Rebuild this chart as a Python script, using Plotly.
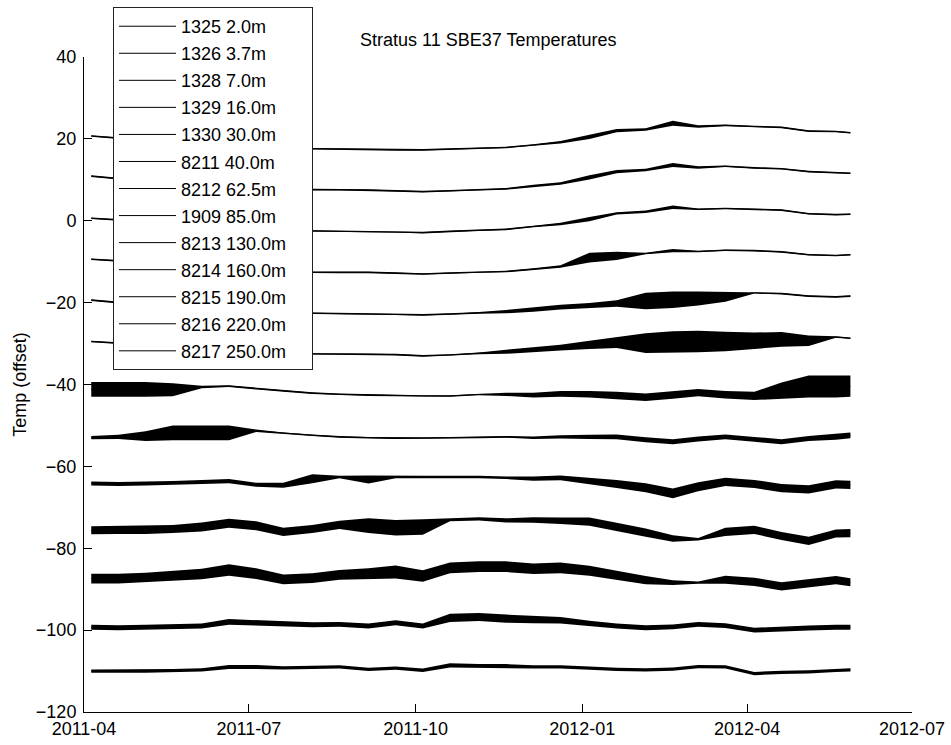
import plotly.graph_objects as go

# Shared time grid (semi-monthly samples)
dates = ['2011-04-05', '2011-04-20', '2011-05-05', '2011-05-20', '2011-06-05', '2011-06-20',
         '2011-07-05', '2011-07-20', '2011-08-05', '2011-08-20', '2011-09-05', '2011-09-20',
         '2011-10-05', '2011-10-20', '2011-11-05', '2011-11-20', '2011-12-05', '2011-12-20',
         '2012-01-05', '2012-01-20', '2012-02-05', '2012-02-20', '2012-03-05', '2012-03-20',
         '2012-04-05', '2012-04-20', '2012-05-05', '2012-05-20', '2012-05-28']

names = ['1325 2.0m', '1326 3.7m', '1328 7.0m', '1329 16.0m', '1330 30.0m', '8211 40.0m',
         '8212 62.5m', '1909 85.0m', '8213 130.0m', '8214 160.0m', '8215 190.0m',
         '8216 220.0m', '8217 250.0m']

# Offset temperatures: centre of trace and half-thickness of noise band
s1325_mid = [20.7, 20.2, 19.5, 18.8, 18.2, 17.8, 17.6, 17.5, 17.6, 17.5, 17.4, 17.3, 17.3, 17.5, 17.7,
             17.9, 18.5, 19.2, 20.5, 22.0, 22.3, 23.8, 23.0, 23.3, 23.0, 22.8, 21.9, 21.8, 21.5]
s1325_half = [0.2, 0.2, 0.2, 0.2, 0.2, 0.2, 0.2, 0.2, 0.2, 0.2, 0.2, 0.2, 0.2, 0.2, 0.2,
              0.2, 0.2, 0.3, 0.5, 0.4, 0.3, 0.6, 0.3, 0.2, 0.2, 0.2, 0.2, 0.2, 0.2]

s1326_mid = [10.9, 10.3, 9.6, 9.0, 8.4, 8.0, 7.8, 7.7, 7.6, 7.6, 7.5, 7.3, 7.1, 7.3, 7.6,
             7.8, 8.5, 9.1, 10.6, 12.0, 12.4, 13.6, 13.0, 13.3, 12.9, 12.7, 12.0, 11.8, 11.6]
s1326_half = [0.2, 0.2, 0.2, 0.2, 0.2, 0.2, 0.2, 0.2, 0.2, 0.2, 0.2, 0.2, 0.2, 0.2, 0.2,
              0.2, 0.3, 0.3, 0.5, 0.4, 0.3, 0.5, 0.3, 0.2, 0.2, 0.2, 0.2, 0.2, 0.2]

s1328_mid = [0.6, 0.2, -0.4, -1.0, -1.6, -2.0, -2.3, -2.4, -2.5, -2.5, -2.6, -2.7, -2.9, -2.6, -2.3,
             -2.1, -1.4, -0.8, 0.4, 1.8, 2.2, 3.3, 2.8, 3.0, 2.8, 2.6, 1.7, 1.5, 1.6]
s1328_half = [0.2, 0.2, 0.2, 0.2, 0.2, 0.2, 0.2, 0.2, 0.2, 0.2, 0.2, 0.2, 0.2, 0.2, 0.2,
              0.2, 0.2, 0.3, 0.5, 0.3, 0.3, 0.4, 0.2, 0.2, 0.2, 0.2, 0.2, 0.2, 0.2]

s1329_mid = [-9.4, -9.8, -10.4, -11.0, -11.6, -12.0, -12.3, -12.5, -12.6, -12.6, -12.6, -12.8, -13.0, -12.8, -12.5,
             -12.4, -11.8, -11.2, -9.0, -8.6, -8.0, -7.3, -7.5, -7.2, -7.3, -7.6, -8.3, -8.5, -8.3]
s1329_half = [0.2, 0.2, 0.2, 0.2, 0.2, 0.2, 0.2, 0.2, 0.2, 0.2, 0.2, 0.2, 0.2, 0.2, 0.2,
              0.2, 0.2, 0.3, 1.2, 1.0, 0.2, 0.4, 0.2, 0.2, 0.2, 0.2, 0.2, 0.2, 0.2]

s1330_mid = [-19.4, -20.0, -20.6, -21.2, -21.7, -22.1, -22.4, -22.5, -22.6, -22.6, -22.7, -22.8, -23.0, -22.8, -22.5,
             -22.2, -21.7, -21.1, -20.7, -20.2, -19.6, -19.3, -19.0, -18.6, -17.6, -17.8, -18.4, -18.6, -18.4]
s1330_half = [0.2, 0.2, 0.2, 0.2, 0.2, 0.2, 0.2, 0.2, 0.2, 0.2, 0.2, 0.2, 0.2, 0.2, 0.2,
              0.4, 0.5, 0.6, 0.6, 0.8, 2.0, 2.0, 1.7, 1.2, 0.2, 0.2, 0.2, 0.2, 0.2]

s8211_mid = [-29.5, -29.9, -30.5, -31.1, -31.7, -32.1, -32.4, -32.5, -32.5, -32.5, -32.6, -32.7, -33.0, -32.8, -32.4,
             -32.0, -31.5, -31.0, -30.3, -29.8, -29.9, -29.6, -29.5, -29.5, -29.3, -29.0, -29.3, -28.4, -28.7]
s8211_half = [0.2, 0.2, 0.2, 0.2, 0.2, 0.2, 0.2, 0.2, 0.2, 0.2, 0.2, 0.2, 0.2, 0.2, 0.2,
              0.5, 0.6, 0.7, 1.0, 1.3, 2.4, 2.6, 2.6, 2.4, 2.0, 1.8, 1.3, 0.2, 0.2]

s8212_mid = [-41.2, -41.2, -41.2, -41.3, -40.6, -40.4, -41.0, -41.6, -42.1, -42.4, -42.6, -42.7, -42.8, -42.8, -42.4,
             -42.4, -42.6, -42.3, -42.4, -42.7, -43.1, -42.6, -42.0, -42.5, -42.8, -41.5, -40.5, -40.5, -40.4]
s8212_half = [1.8, 1.8, 1.8, 1.6, 0.3, 0.2, 0.2, 0.2, 0.2, 0.2, 0.2, 0.2, 0.2, 0.2, 0.2,
              0.4, 0.6, 0.7, 0.8, 0.9, 0.9, 0.9, 0.9, 0.9, 1.0, 2.0, 2.7, 2.7, 2.6]

s1909_mid = [-53.0, -52.8, -52.6, -51.8, -51.8, -51.8, -51.3, -51.9, -52.4, -52.8, -53.0, -53.1, -53.1, -53.0, -52.9,
             -52.8, -53.0, -52.8, -52.8, -52.8, -53.5, -54.0, -53.3, -52.8, -53.4, -54.0, -53.2, -52.8, -52.4]
s1909_half = [0.4, 0.5, 1.2, 1.8, 1.8, 1.8, 0.3, 0.2, 0.2, 0.2, 0.2, 0.2, 0.2, 0.2, 0.2,
              0.2, 0.3, 0.4, 0.5, 0.6, 0.6, 0.6, 0.6, 0.6, 0.6, 0.6, 0.6, 0.7, 0.7]

s8213_mid = [-64.2, -64.3, -64.2, -64.1, -63.8, -63.6, -64.5, -64.6, -63.0, -62.6, -63.2, -62.6, -62.6, -62.6, -62.6,
             -62.8, -63.0, -62.8, -63.6, -64.3, -65.2, -66.6, -65.0, -63.8, -64.3, -65.3, -65.6, -64.4, -64.5]
s8213_half = [0.5, 0.5, 0.5, 0.5, 0.5, 0.5, 0.5, 0.6, 1.1, 0.3, 1.0, 0.3, 0.3, 0.3, 0.3,
              0.3, 0.5, 0.6, 0.8, 1.0, 1.1, 1.2, 1.1, 1.0, 1.0, 1.0, 1.0, 1.0, 1.0]

s8214_mid = [-75.6, -75.5, -75.5, -75.3, -74.8, -73.9, -74.5, -76.0, -75.3, -74.3, -74.5, -75.0, -74.8, -73.0, -72.8,
             -73.2, -73.1, -73.3, -73.5, -74.8, -76.2, -77.6, -77.8, -76.0, -75.5, -77.0, -78.2, -76.4, -76.3]
s8214_half = [1.0, 1.0, 1.0, 1.0, 1.1, 1.1, 1.1, 1.0, 1.0, 1.0, 1.8, 1.9, 1.9, 0.4, 0.4,
              0.5, 0.7, 0.8, 1.0, 1.0, 1.0, 0.8, 0.3, 1.0, 1.0, 1.0, 1.0, 1.0, 1.0]

s8215_mid = [-87.4, -87.4, -87.2, -86.8, -86.3, -85.3, -86.2, -87.6, -87.3, -86.5, -86.2, -85.8, -86.8, -84.8, -84.5,
             -84.5, -85.0, -84.8, -85.5, -86.6, -87.8, -88.4, -88.4, -87.7, -88.2, -89.3, -88.5, -87.8, -88.3]
s8215_half = [1.2, 1.2, 1.2, 1.2, 1.3, 1.4, 1.3, 1.2, 1.2, 1.2, 1.3, 1.6, 1.4, 1.3, 1.3,
              1.3, 1.3, 1.3, 1.2, 1.1, 1.0, 0.6, 0.3, 1.0, 1.0, 1.0, 1.0, 1.0, 1.0]

s8216_mid = [-99.3, -99.4, -99.3, -99.2, -99.0, -98.0, -98.3, -98.5, -98.7, -98.6, -99.0, -98.2, -99.0, -97.0, -96.8,
             -97.2, -97.4, -97.6, -98.4, -99.0, -99.4, -99.2, -98.6, -98.9, -100.0, -99.7, -99.5, -99.3, -99.3]
s8216_half = [0.6, 0.6, 0.6, 0.6, 0.6, 0.7, 0.7, 0.6, 0.6, 0.6, 0.6, 0.6, 0.6, 1.0, 1.0,
              1.0, 0.9, 0.8, 0.7, 0.6, 0.6, 0.6, 0.6, 0.6, 0.6, 0.6, 0.6, 0.6, 0.6]

s8217_mid = [-110.0, -110.0, -110.0, -109.9, -109.7, -109.0, -109.0, -109.2, -109.1, -109.0, -109.6, -109.3, -109.8, -108.6, -108.8,
             -108.8, -109.0, -109.0, -109.3, -109.6, -109.7, -109.5, -108.9, -109.0, -110.6, -110.3, -110.2, -109.8, -109.7]
s8217_half = [0.4, 0.4, 0.4, 0.4, 0.4, 0.5, 0.5, 0.4, 0.4, 0.4, 0.4, 0.4, 0.4, 0.5, 0.5,
              0.5, 0.4, 0.4, 0.4, 0.4, 0.4, 0.4, 0.4, 0.4, 0.4, 0.4, 0.4, 0.4, 0.4]

mids = [s1325_mid, s1326_mid, s1328_mid, s1329_mid, s1330_mid, s8211_mid, s8212_mid,
        s1909_mid, s8213_mid, s8214_mid, s8215_mid, s8216_mid, s8217_mid]
halves = [s1325_half, s1326_half, s1328_half, s1329_half, s1330_half, s8211_half, s8212_half,
          s1909_half, s8213_half, s8214_half, s8215_half, s8216_half, s8217_half]

x_ticks = ['2011-04-01', '2011-07-01', '2011-10-01', '2012-01-01', '2012-04-01', '2012-07-01']
x_ticktext = ['2011-04', '2011-07', '2011-10', '2012-01', '2012-04', '2012-07']
y_ticks = [-120, -100, -80, -60, -40, -20, 0, 20, 40]

FONT = 'Liberation Sans, Arial, Helvetica, sans-serif'
FS = 18
PAD = '\u00a0\u00a0\u00a0\u00a0'  # right padding inside the legend box

fig = go.Figure()
# noise bands (no legend)
for name, mid, half in zip(names, mids, halves):
    hi = [m + h for m, h in zip(mid, half)]
    lo = [m - h for m, h in zip(mid, half)]
    fig.add_trace(go.Scatter(
        x=dates + dates[::-1], y=hi + lo[::-1],
        fill='toself', fillcolor='black', mode='lines',
        line=dict(color='black', width=0),
        showlegend=False, hoverinfo='skip'))
# centre lines (legend entries)
for i, (name, mid) in enumerate(zip(names, mids)):
    fig.add_trace(go.Scatter(
        x=dates, y=mid, mode='lines', name=name + PAD,
        line=dict(color='black', width=1), legendgroup='g%d' % i))

fig.update_layout(
    width=951, height=745,
    margin=dict(l=84, r=39, t=57, b=33, autoexpand=False),
    paper_bgcolor='white', plot_bgcolor='white',
    font=dict(family=FONT, size=FS, color='black'),
    showlegend=True,
    legend=dict(x=0.035, y=1.0763, xanchor='left', yanchor='top',
                bgcolor='white', bordercolor='#222222', borderwidth=1,
                font=dict(family=FONT, size=FS, color='black'),
                tracegroupgap=0.65, itemwidth=57),
    annotations=[dict(text='Stratus 11 SBE37 Temperatures', xref='paper', yref='paper',
                      x=0.488, y=1.026, xanchor='center', yanchor='middle', showarrow=False,
                      font=dict(family=FONT, size=FS, color='black'))],
)
fig.update_xaxes(type='date', range=['2011-04-01', '2012-07-01'],
                 tickvals=x_ticks, ticktext=x_ticktext,
                 ticks='inside', ticklen=8, tickcolor='black',
                 showline=True, linecolor='black', linewidth=1,
                 showgrid=False, zeroline=False,
                 tickfont=dict(family=FONT, size=FS, color='black'))
fig.update_yaxes(range=[-120, 40], tickvals=y_ticks,
                 ticks='inside', ticklen=8, tickcolor='black',
                 showline=True, linecolor='black', linewidth=1,
                 showgrid=False, zeroline=False, ticklabelstandoff=3,
                 tickfont=dict(family=FONT, size=FS, color='black'),
                 title=dict(text='Temp (offset)', standoff=4,
                            font=dict(family=FONT, size=FS, color='black')))

fig.write_html('out.html', config={'displayModeBar': False},
               post_script="document.body.style.margin='0px';")
